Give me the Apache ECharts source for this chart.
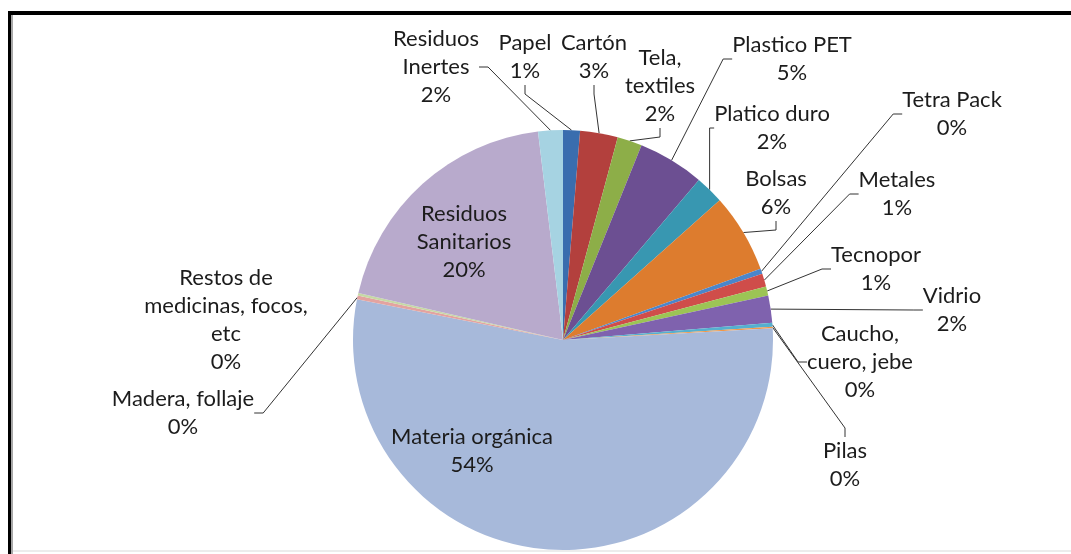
<!DOCTYPE html>
<html>
<head>
<meta charset="utf-8">
<script src="https://cdn.jsdelivr.net/npm/echarts@6/dist/echarts.min.js"></script>
<style>
  html, body { margin: 0; padding: 0; background: #fff; }
  #chart { width: 1071px; height: 554px; }
</style>
</head>
<body>
<div id="chart"></div>
<script>
// composition of waste, share of total (%), clockwise from 12 o'clock
const categories = ['Papel', 'Cartón', 'Tela, textiles', 'Plastico PET', 'Platico duro', 'Bolsas',
  'Tetra Pack', 'Metales', 'Tecnopor', 'Vidrio', 'Caucho, cuero, jebe', 'Pilas',
  'Materia orgánica', 'Madera, follaje', 'Restos de medicinas, focos, etc',
  'Residuos Sanitarios', 'Residuos Inertes']
const shares = [1.3, 2.9, 1.9, 5.1, 2.2, 6.1, 0.4, 1.0, 0.7, 2.1, 0.3, 0.1, 54.0, 0.3, 0.2, 19.5, 1.9]
// how the names are broken in the labels
const labelNames = ['Papel', 'Cartón', 'Tela,\ntextiles', 'Plastico PET', 'Platico duro', 'Bolsas',
  'Tetra Pack', 'Metales', 'Tecnopor', 'Vidrio', 'Caucho,\ncuero, jebe', 'Pilas',
  'Materia orgánica', 'Madera, follaje', 'Restos de\nmedicinas, focos,\netc',
  'Residuos\nSanitarios', 'Residuos\nInertes']

const colors = ['#3a6dae', '#b3403d', '#8dae48', '#6c4f92', '#3897b1', '#dd7c2e',
  '#4a86cb', '#cf4d4a', '#9cc455', '#7f62ae', '#55b0cf', '#f39848',
  '#a7b9da', '#e3a3a0', '#c6d9a5', '#b8aacc', '#a6d3e2']

// label block centres, placed like the original
const labelSpots = [
  [525, 57], [594, 57], [660, 86], [792, 59], [772, 128], [776, 193],
  [952, 114], [897, 194], [876, 269], [952, 310], [860, 362], [845, 465],
  [472, 451], [183, 413], [226, 320], [464, 242], [436, 67]
]
const noLine = ['Materia orgánica', 'Residuos Sanitarios', 'Restos de medicinas, focos, etc']

const total = shares.reduce((a, b) => a + b, 0)

const chart = echarts.init(document.getElementById('chart'))

const pieData = categories.map((name, i) => {
  const item = { name: name, value: shares[i], itemStyle: { color: colors[i] } }
  if (noLine.indexOf(name) >= 0) {
    item.labelLine = { show: false }
  }
  return item
})

chart.setOption({
  backgroundColor: '#fff',
  animation: false,
  graphic: [
    { type: 'rect', shape: { x: 8, y: 11, width: 1070, height: 4 }, style: { fill: '#000' } },
    { type: 'rect', shape: { x: 8, y: 11, width: 3, height: 550 }, style: { fill: '#000' } },
    { type: 'rect', shape: { x: 11, y: 15, width: 2, height: 540 }, style: { fill: '#a8a8a8' } },
    { type: 'rect', shape: { x: 13, y: 550, width: 1060, height: 2 }, style: { fill: '#ececec' } }
  ],
  series: [
    {
      type: 'pie',
      center: [563, 340],
      radius: 210,
      startAngle: 90,
      clockwise: true,
      avoidLabelOverlap: false,
      itemStyle: { borderWidth: 0 },
      label: {
        show: true,
        position: 'outside',
        color: '#1c1c1c',
        fontFamily: 'Lato',
        fontSize: 22,
        lineHeight: 28,
        align: 'center',
        formatter: (p) => labelNames[p.dataIndex] + '\n' + Math.round(p.value / total * 100) + '%'
      },
      labelLine: {
        show: true,
        length: 10,
        length2: 9,
        lineStyle: { color: '#333', width: 1 }
      },
      labelLayout: (params) => {
        const spot = labelSpots[params.dataIndex]
        return { x: spot[0], y: spot[1], align: 'center', verticalAlign: 'middle' }
      },
      emphasis: { disabled: true },
      data: pieData
    }
  ]
})
</script>
</body>
</html>
